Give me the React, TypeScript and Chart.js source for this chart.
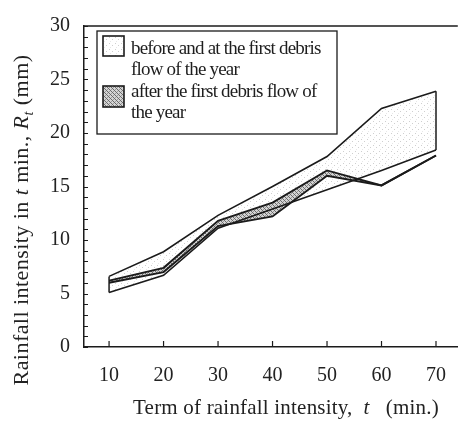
import React, { useEffect, useRef } from 'react';
import { Chart, registerables } from 'chart.js';

Chart.register(...registerables);

// ---- data ----
const terms = [10, 20, 30, 40, 50, 60, 70];
const beforeMax = [6.6, 8.9, 12.3, 15.0, 17.8, 22.3, 23.9];
const beforeMin = [5.1, 6.7, 11.1, 12.9, 14.7, 16.5, 18.4];
const afterMax = [6.2, 7.4, 11.8, 13.5, 16.5, 15.1, 17.9];
const afterMin = [6.0, 7.0, 11.3, 12.2, 16.0, 15.1, 17.9];
const yTickValues = [0, 5, 10, 15, 20, 25, 30];
const legendBefore = ['before and at the first debris', 'flow of the year'];
const legendAfter = ['after the first debris flow of', 'the year'];
const xTitleParts = [
  { text: 'Term of rainfall intensity,  ' },
  { text: 't', italic: true },
  { text: '   (min.)' },
];
const yTitleParts = [
  { text: 'Rainfall intensity in ' },
  { text: 't', italic: true },
  { text: ' min., ' },
  { text: 'R', italic: true },
  { text: 't', italic: true, sub: true },
  { text: ' (mm)' },
];

const FONT = '"Liberation Serif", "Times New Roman", serif';
const INK = '#1b1b1b';

type Part = { text: string; italic?: boolean; sub?: boolean };

function partFont(p: Part, size: number) {
  const s = p.sub ? Math.round(size * 0.62) : size;
  return `${p.italic ? 'italic ' : ''}${s}px ${FONT}`;
}

function drawRich(ctx: CanvasRenderingContext2D, parts: Part[], cx: number, cy: number, size: number, spacing: number) {
  (ctx as any).letterSpacing = `${spacing}px`;
  let total = 0;
  const widths = parts.map((p) => {
    ctx.font = partFont(p, size);
    const w = ctx.measureText(p.text).width;
    total += w;
    return w;
  });
  let x = cx - total / 2;
  ctx.textBaseline = 'alphabetic';
  ctx.textAlign = 'left';
  parts.forEach((p, i) => {
    ctx.font = partFont(p, size);
    ctx.fillText(p.text, x, cy + (p.sub ? size * 0.22 : 0));
    x += widths[i];
  });
  (ctx as any).letterSpacing = '0px';
}

function makeDots() {
  const c = document.createElement('canvas');
  c.width = 6;
  c.height = 6;
  const g = c.getContext('2d')!;
  g.fillStyle = '#ffffff';
  g.fillRect(0, 0, 6, 6);
  g.fillStyle = '#cfcfcf';
  g.fillRect(1, 1, 1, 1);
  g.fillRect(4, 3, 1, 1);
  g.fillStyle = '#e8e8e8';
  g.fillRect(2, 5, 1, 1);
  return g.createPattern(c, 'repeat')!;
}

function makeHatch() {
  const c = document.createElement('canvas');
  c.width = 4;
  c.height = 4;
  const g = c.getContext('2d')!;
  g.fillStyle = '#d4d4d4';
  g.fillRect(0, 0, 4, 4);
  g.fillStyle = '#6a6a6a';
  for (let i = 0; i < 4; i++) g.fillRect(i, i, 1, 1);
  g.fillStyle = '#9a9a9a';
  g.fillRect(3, 1, 1, 1);
  g.fillRect(1, 3, 1, 1);
  return g.createPattern(c, 'repeat')!;
}

const pts = (ys: number[]) => terms.map((x, i) => ({ x, y: ys[i] }));

export default function App() {
  const ref = useRef<HTMLCanvasElement>(null);

  useEffect(() => {
    const canvas = ref.current!;
    const dots = makeDots();
    const hatch = makeHatch();

    const decor = {
      id: 'decor',
      afterDraw(chart: any) {
        const { ctx, chartArea: a, scales } = chart;
        const xs = scales.x;
        const ys = scales.y;
        ctx.save();
        ctx.strokeStyle = INK;
        ctx.lineWidth = 1.5;
        // top frame line
        ctx.beginPath();
        ctx.moveTo(a.left, a.top);
        ctx.lineTo(a.right, a.top);
        ctx.stroke();
        // inner y ticks (every unit)
        ctx.lineWidth = 1;
        for (let v = ys.min; v <= ys.max; v += 1) {
          const y = Math.round(ys.getPixelForValue(v)) + 0.5;
          ctx.beginPath();
          ctx.moveTo(a.left, y);
          ctx.lineTo(a.left + 4, y);
          ctx.stroke();
        }
        // inner x ticks
        ctx.lineWidth = 1.2;
        terms.forEach((t) => {
          const x = xs.getPixelForValue(t);
          ctx.beginPath();
          ctx.moveTo(x, a.bottom);
          ctx.lineTo(x, a.bottom - 6);
          ctx.stroke();
        });

        // legend
        const lx = 97, ly = 31, lw = 240, lh = 103;
        ctx.fillStyle = '#ffffff';
        ctx.fillRect(lx, ly, lw, lh);
        ctx.lineWidth = 1.3;
        ctx.strokeRect(lx, ly, lw, lh);
        ctx.fillStyle = dots;
        ctx.fillRect(103, 36, 21, 20);
        ctx.lineWidth = 1.6;
        ctx.strokeRect(103, 36, 21, 20);
        ctx.fillStyle = hatch;
        ctx.fillRect(103, 86, 21, 21);
        ctx.strokeRect(103, 86, 21, 21);
        ctx.fillStyle = '#1e1e1e';
        ctx.font = `19px ${FONT}`;
        (ctx as any).letterSpacing = '-0.8px';
        ctx.textAlign = 'left';
        ctx.textBaseline = 'alphabetic';
        ctx.fillText(legendBefore[0], 131, 54);
        ctx.fillText(legendBefore[1], 131, 75);
        ctx.fillText(legendAfter[0], 131, 97);
        ctx.fillText(legendAfter[1], 131, 118);
        (ctx as any).letterSpacing = '0px';

        // axis titles
        ctx.fillStyle = '#222';
        drawRich(ctx, xTitleParts, 286, 414, 21, 0.2);
        ctx.save();
        ctx.translate(28, 220);
        ctx.rotate(-Math.PI / 2);
        drawRich(ctx, yTitleParts, 0, 0, 22, 0.45);
        ctx.restore();
        ctx.restore();
      },
    };

    const line = (ys: number[], extra: any = {}) => ({
      data: pts(ys),
      borderColor: INK,
      borderWidth: 1.9,
      pointRadius: 0,
      tension: 0,
      fill: false,
      ...extra,
    });

    const chart = new Chart(canvas, {
      type: 'line',
      data: {
        datasets: [
          line(afterMax, { label: 'after max', fill: '+1', backgroundColor: hatch }),
          line(afterMin, { label: 'after min' }),
          line(beforeMax, { label: 'before max', fill: '+1', backgroundColor: dots, borderWidth: 1.6 }),
          line(beforeMin, { label: 'before min', borderWidth: 1.6 }),
          {
            label: 'close left',
            data: [
              { x: terms[0], y: beforeMin[0] },
              { x: terms[0], y: beforeMax[0] },
            ],
            borderColor: INK,
            borderWidth: 1.5,
            pointRadius: 0,
            fill: false,
          },
          {
            label: 'close right',
            data: [
              { x: terms[terms.length - 1], y: beforeMin[beforeMin.length - 1] },
              { x: terms[terms.length - 1], y: beforeMax[beforeMax.length - 1] },
            ],
            borderColor: INK,
            borderWidth: 1.5,
            pointRadius: 0,
            fill: false,
          },
        ],
      },
      options: {
        responsive: false,
        animation: false,
        layout: { padding: { top: 22, right: 0, left: 0, bottom: 0 } },
        plugins: {
          legend: { display: false },
          tooltip: { enabled: false },
          filler: { drawTime: 'beforeDatasetsDraw' },
        },
        scales: {
          x: {
            type: 'linear',
            min: 5.4,
            max: 74,
            afterBuildTicks: (s: any) => {
              s.ticks = terms.map((v) => ({ value: v }));
            },
            afterFit: (s: any) => {
              s.height = 78;
            },
            grid: { display: false, drawTicks: false },
            border: { display: true, color: INK, width: 1.5 },
            ticks: {
              font: { family: FONT, size: 20 },
              color: '#222',
              padding: 17,
              maxRotation: 0,
              autoSkip: false,
            },
          },
          y: {
            type: 'linear',
            min: 0,
            max: 30,
            afterBuildTicks: (s: any) => {
              s.ticks = yTickValues.map((v) => ({ value: v }));
            },
            afterFit: (s: any) => {
              s.width = 84;
            },
            grid: { display: false, drawTicks: false },
            border: { display: true, color: INK, width: 1.5 },
            ticks: {
              font: { family: FONT, size: 20 },
              color: '#222',
              padding: 14,
            },
          },
        },
      } as any,
      plugins: [decor],
    });
    return () => chart.destroy();
  }, []);

  return (
    <div style={{ position: 'fixed', left: 0, top: 0, width: 463, height: 425, background: '#fff' }}>
      <canvas ref={ref} width={463} height={425} style={{ display: 'block' }} />
    </div>
  );
}
